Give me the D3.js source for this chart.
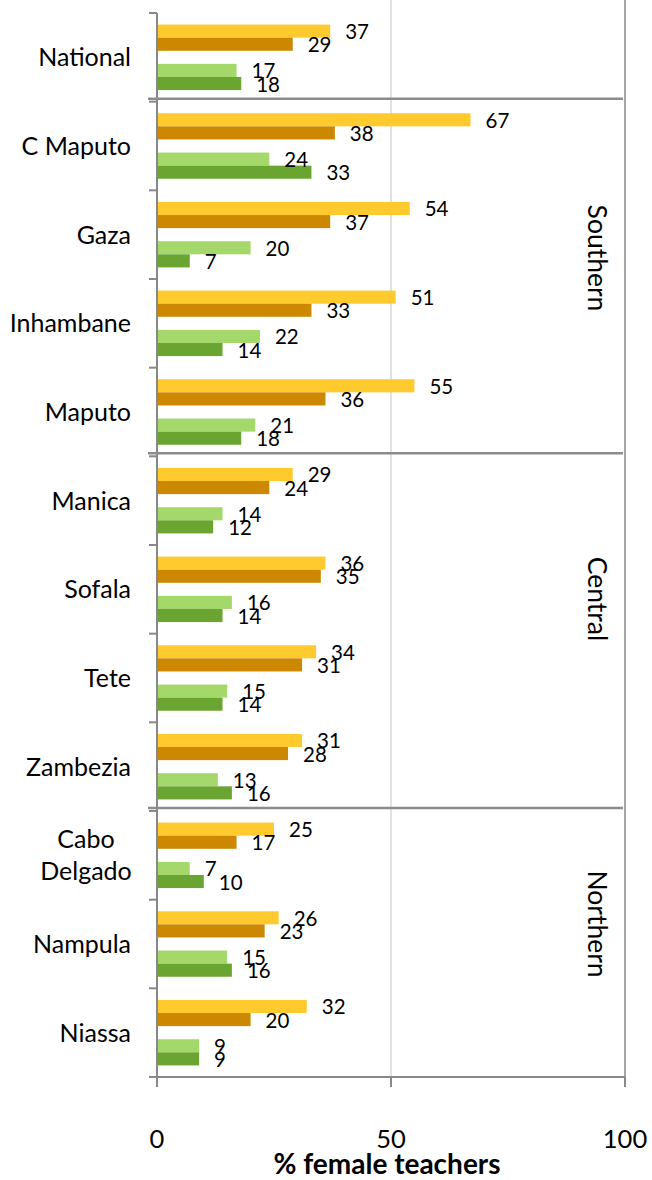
<!DOCTYPE html>
<html><head><meta charset="utf-8">
<script src="https://cdn.jsdelivr.net/npm/d3@7/dist/d3.min.js"></script>
<style>body{margin:0;background:#fff}svg{display:block}text{font-family:Lato,"Open Sans",sans-serif;fill:#000}</style>
</head><body>
<script>
const categories = ["National","C Maputo","Gaza","Inhambane","Maputo","Manica","Sofala","Tete","Zambezia","Cabo Delgado","Nampula","Niassa"];
const seriesA = [37,67,54,51,55,29,36,34,31,25,26,32]; // yellow
const seriesB = [29,38,37,33,36,24,35,31,28,17,23,20]; // dark orange
const seriesC = [17,24,20,22,21,14,16,15,13,7,15,9];   // light green
const seriesD = [18,33,7,14,18,12,14,14,16,10,16,9];   // dark green
const xTicks = [0,50,100];
const regions = [
  {name:"Southern", first:"C Maputo", last:"Maputo"},
  {name:"Central", first:"Manica", last:"Zambezia"},
  {name:"Northern", first:"Cabo Delgado", last:"Niassa"}
];
const series = [
  {key:"a", values:seriesA, color:"#FFCA2E"},
  {key:"b", values:seriesB, color:"#CC8800"},
  {key:"c", values:seriesC, color:"#A5D86B"},
  {key:"d", values:seriesD, color:"#6AA532"}
];

const W=652,H=1180;
const svg=d3.select("body").append("svg").attr("width",W).attr("height",H);
const x=d3.scaleLinear().domain([0,100]).range([157,625]);
const y=d3.scaleBand().domain(categories).range([13,1077]).padding(0);
const inner=d3.scaleBand().domain(["a","b","gap","c","d"]).range([0,y.bandwidth()]).paddingInner(0).paddingOuter(0.885);

// gridlines
svg.append("line").attr("x1",x(50)).attr("x2",x(50)).attr("y1",0).attr("y2",1077).attr("stroke","#d9d9d9").attr("stroke-width",1.5);
svg.append("line").attr("x1",x(100)).attr("x2",x(100)).attr("y1",0).attr("y2",1077).attr("stroke","#a6a6a6").attr("stroke-width",2);

// bars
const g=svg.append("g");
series.forEach(s=>{
  g.selectAll(null).data(categories).join("rect")
    .attr("x",x(0)).attr("y",(c)=>y(c)+inner(s.key))
    .attr("width",(c,i)=>x(s.values[i])-x(0)).attr("height",inner.bandwidth())
    .attr("fill",s.color);
});
// data labels
series.forEach(s=>{
  g.selectAll(null).data(categories).join("text")
    .attr("x",(c,i)=>x(s.values[i])+15)
    .attr("y",(c)=>y(c)+inner(s.key)+inner.bandwidth()/2+8)
    .attr("font-size",20.5)
    .text((c,i)=>s.values[i]);
});

// y axis
const axisColor="#888";
svg.append("line").attr("x1",x(0)).attr("x2",x(0)).attr("y1",13).attr("y2",1077).attr("stroke",axisColor).attr("stroke-width",2);
const bounds=categories.map(c=>y(c));
svg.selectAll(null).data(bounds).join("line")
  .attr("x1",149).attr("x2",x(0)).attr("y1",d=>d).attr("y2",d=>d).attr("stroke",axisColor).attr("stroke-width",2);
// x axis
svg.append("line").attr("x1",149).attr("x2",x(100)).attr("y1",1077).attr("y2",1077).attr("stroke",axisColor).attr("stroke-width",2);
svg.selectAll(null).data(xTicks).join("line")
  .attr("x1",d=>x(d)).attr("x2",d=>x(d)).attr("y1",1077).attr("y2",1087).attr("stroke",axisColor).attr("stroke-width",2);
svg.selectAll(null).data(xTicks).join("text")
  .attr("x",d=>x(d)).attr("y",1148).attr("text-anchor","middle").attr("font-size",25.5).text(d=>d);
svg.append("text").attr("x",387).attr("y",1174).attr("text-anchor","middle").attr("font-size",28).attr("font-weight","bold").text("% female teachers");

// category labels
categories.forEach(c=>{
  const cy=y(c)+y.bandwidth()/2;
  const words=c==="Cabo Delgado"?["Cabo","Delgado"]:[c];
  const t=svg.append("text").attr("font-size",25).attr("text-anchor","middle");
  if(words.length===1){
    t.attr("text-anchor","end").attr("x",131).attr("y",cy+9).text(c);
  } else {
    const lh=32;
    words.forEach((w,i)=>{
      t.append("tspan").attr("x",86).attr("y",cy+9+(i-(words.length-1)/2)*lh).text(w);
    });
  }
});

// region separators
const seps=[y("C Maputo"),y("Manica"),y("Cabo Delgado")];
svg.selectAll(null).data(seps).join("line")
  .attr("x1",148).attr("x2",623).attr("y1",d=>d-3).attr("y2",d=>d-3).attr("stroke","#8c8c8c").attr("stroke-width",2.5);

// region labels
const regionY={Southern:258,Central:599,Northern:924};
regions.forEach(r=>{
  svg.append("text").attr("transform",`translate(588,${regionY[r.name]}) rotate(90)`)
    .attr("text-anchor","middle").attr("font-size",26.5).text(r.name);
});
</script>
</body></html>
